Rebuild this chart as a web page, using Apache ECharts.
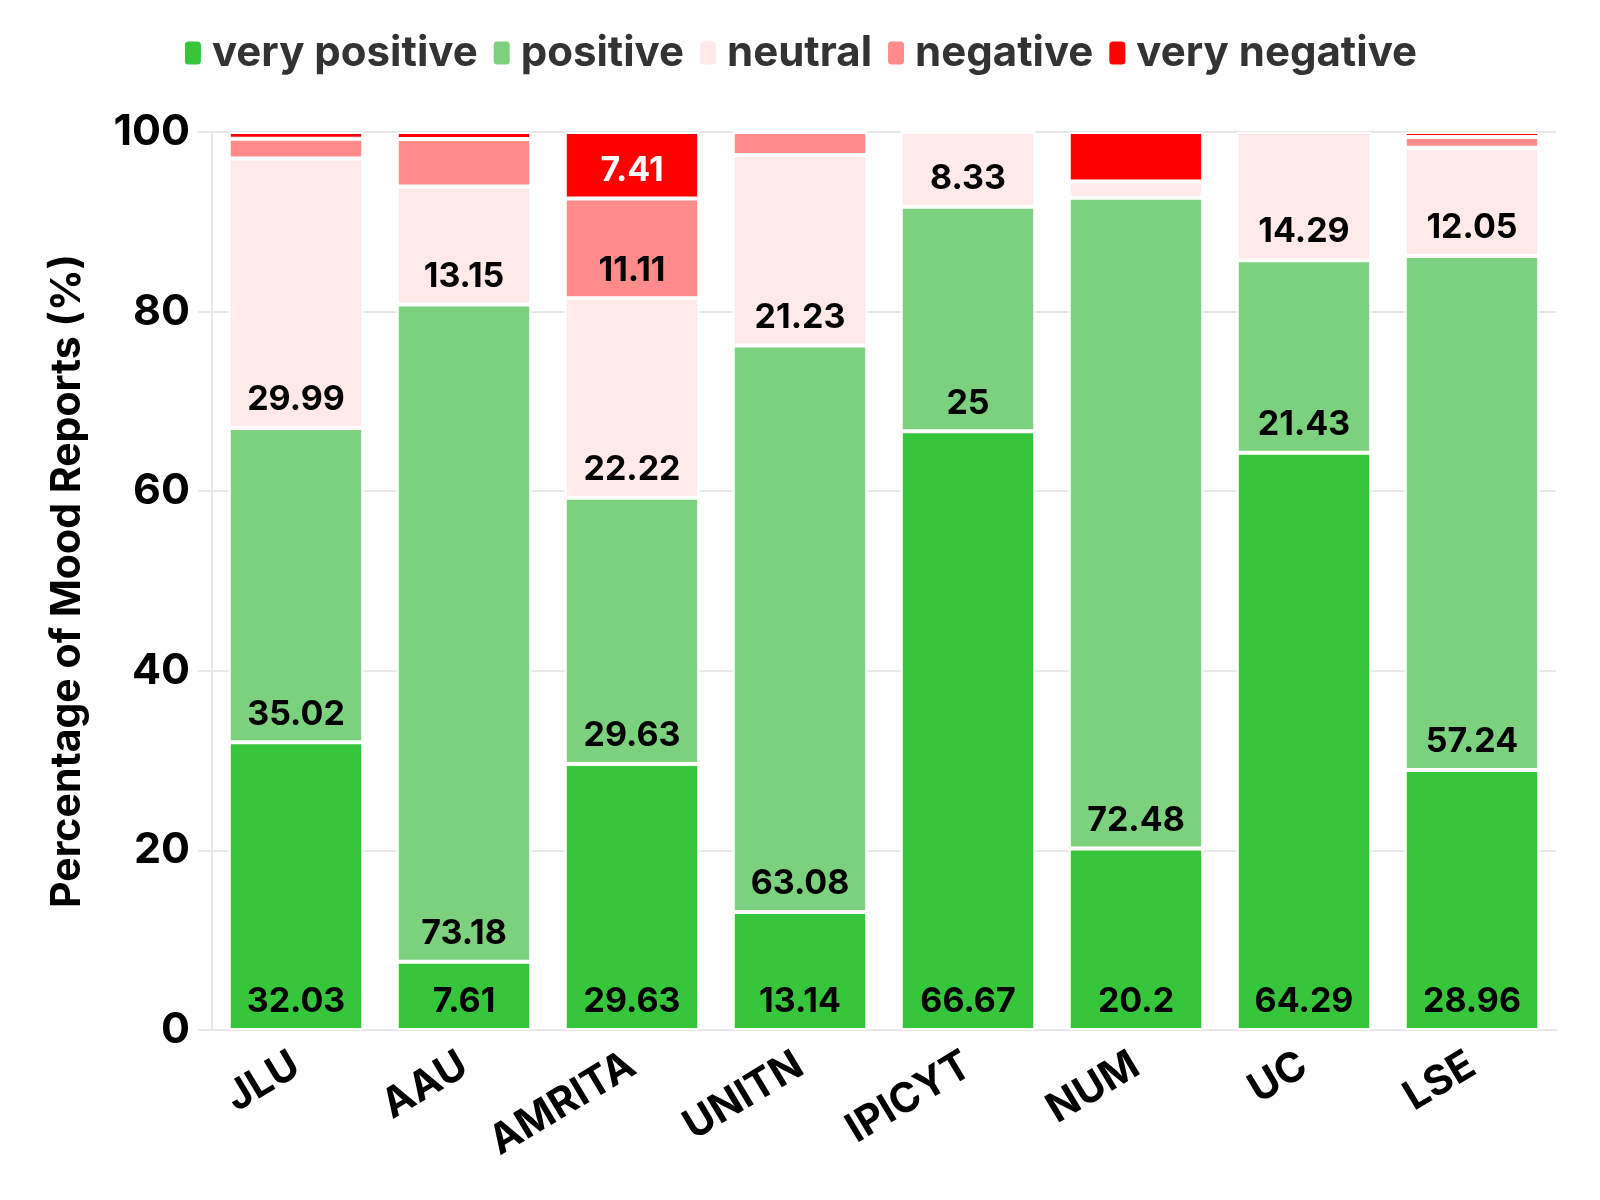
<!DOCTYPE html>
<html>
<head>
<meta charset="utf-8">
<script src="https://cdn.jsdelivr.net/npm/echarts@6/dist/echarts.min.js"></script>
<style>
    html, body { margin: 0; padding: 0; background: #fff; }
    #main { width: 1600px; height: 1200px; }
</style>
</head>
<body>
<div id="main"></div>
<script>
    var categories = ['JLU', 'AAU', 'AMRITA', 'UNITN', 'IPICYT', 'NUM', 'UC', 'LSE'];
    var seriesNames = ['very positive', 'positive', 'neutral', 'negative', 'very negative'];
    var veryPositive = [32.03, 7.61, 29.63, 13.14, 66.67, 20.2, 64.29, 28.96];
    var positive = [35.02, 73.18, 29.63, 63.08, 25, 72.48, 21.43, 57.24];
    var neutral = [29.99, 13.15, 22.22, 21.23, 8.33, 1.8, 14.29, 12.05];
    var negative = [2.2, 5.29, 11.11, 2.55, 0, 0, 0, 1.2];
    var veryNegative = [0.76, 0.77, 7.41, 0, 0, 5.52, 0, 0.55];
    var yTicks = [0, 20, 40, 60, 80, 100];

    var colors = ['#37c53b', '#7bd17e', '#ffe9e9', '#ff8b8b', '#ff0000'];
    var labelColors = ['#000', '#000', '#000', '#000', '#fff'];
    var allValues = [veryPositive, positive, neutral, negative, veryNegative];

    var FONT = 'Inter';
    var gridColor = '#e8e8e8';

    var chart = echarts.init(document.getElementById('main'));

    var series = seriesNames.map(function (name, i) {
        return {
            name: name,
            type: 'bar',
            stack: 'mood',
            barCategoryGap: '20%',
            data: allValues[i],
            itemStyle: {
                color: colors[i],
                borderColor: '#fff',
                borderWidth: 2
            },
            label: {
                show: true,
                position: 'insideBottom',
                distance: 11,
                fontFamily: FONT,
                fontWeight: 'bold',
                fontSize: 34,
                color: labelColors[i],
                formatter: function (p) {
                    // small segments carry no label
                    return p.value >= 6 ? String(p.value) : '';
                }
            }
        };
    });

    var option = {
        animation: false,
        legend: {
            top: 27,
            left: 'center',
            icon: 'roundRect',
            itemWidth: 18,
            itemHeight: 25,
            itemGap: 14,
            textStyle: {
                fontFamily: FONT,
                fontWeight: 'bold',
                fontSize: 42,
                color: '#333',
                padding: [0, 0, 0, 5]
            },
            data: seriesNames
        },
        grid: {
            left: 212,
            right: 44,
            top: 132,
            bottom: 170
        },
        xAxis: {
            type: 'category',
            data: categories,
            axisLine: { lineStyle: { color: gridColor, width: 2 } },
            axisTick: { alignWithLabel: true, length: 14, lineStyle: { color: gridColor, width: 2 } },
            axisLabel: {
                rotate: 31,
                margin: 32,
                fontFamily: FONT,
                fontWeight: 'bold',
                fontSize: 41,
                color: '#000'
            }
        },
        yAxis: {
            type: 'value',
            min: yTicks[0],
            max: yTicks[yTicks.length - 1],
            interval: yTicks[1] - yTicks[0],
            name: 'Percentage of Mood Reports (%)',
            nameLocation: 'middle',
            nameGap: 124,
            nameTextStyle: {
                fontFamily: FONT,
                fontWeight: 'bold',
                fontSize: 41,
                color: '#000'
            },
            axisLine: { show: true, lineStyle: { color: gridColor, width: 2 } },
            axisTick: { show: true, length: 14, lineStyle: { color: gridColor, width: 2 } },
            splitLine: { lineStyle: { color: gridColor, width: 2 } },
            axisLabel: {
                margin: 22,
                fontFamily: FONT,
                fontWeight: 'bold',
                fontSize: 43,
                color: '#000'
            }
        },
        series: series
    };

    chart.setOption(option);
</script>
</body>
</html>
